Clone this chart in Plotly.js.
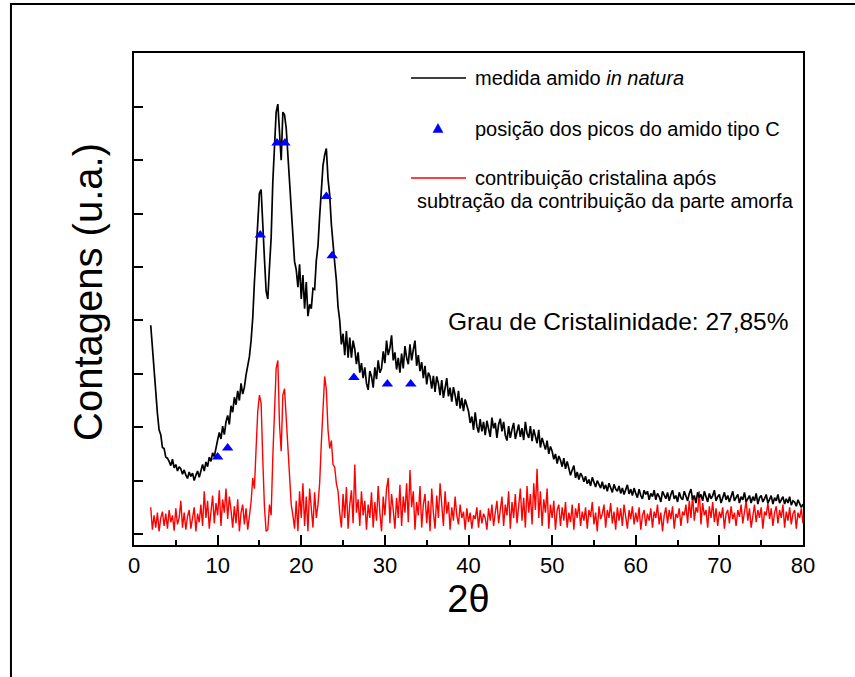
<!DOCTYPE html>
<html>
<head>
<meta charset="utf-8">
<script src="https://cdn.plot.ly/plotly-3.0.1.min.js"></script>
<style>
  html, body { margin: 0; padding: 0; background: #fff; }
  #chart { width: 855px; height: 677px; }
</style>
</head>
<body>
<div id="chart"></div>
<script>
// X-ray diffraction scan: 2θ from 2° to 80° in 0.2° steps
const scanStart = 2.0;
const scanStep = 0.2;

// Measured pattern of the native starch (arbitrary units, 1 unit per y tick)
const medidaAmido = [
  3.91, 3.48, 3.10, 2.58, 2.26, 1.95, 1.86, 1.62, 1.60, 1.44,
  1.42, 1.36, 1.28, 1.40, 1.24, 1.30, 1.18, 1.26, 1.22, 1.12,
  1.20, 1.10, 1.04, 1.16, 1.08, 1.14, 1.00, 1.10, 1.18, 1.06,
  1.20, 1.30, 1.18, 1.35, 1.26, 1.44, 1.36, 1.52, 1.45, 1.64,
  1.76, 1.90, 1.78, 2.02, 1.86, 2.10, 2.22, 2.05, 2.40, 2.28,
  2.56, 2.42, 2.68, 2.50, 2.82, 2.62, 2.75, 2.98, 3.12, 3.32,
  3.62, 4.05, 4.72, 5.30, 5.90, 6.38, 6.45, 5.92, 5.15, 4.55,
  4.40, 5.00, 5.55, 6.60, 7.25, 7.90, 8.05, 7.50, 7.00, 7.90,
  7.85, 7.60, 7.10, 6.75, 6.05, 5.70, 5.10, 4.95, 4.62, 5.05,
  4.40, 4.85, 4.22, 4.72, 4.08, 4.30, 4.22, 4.60, 4.58, 5.12,
  5.40, 5.95, 6.35, 6.90, 7.10, 7.22, 6.65, 6.35, 5.80, 5.50,
  5.08, 4.75, 4.25, 4.00, 3.55, 3.75, 3.35, 3.80, 3.30, 3.68,
  3.30, 3.62, 3.46, 3.18, 3.40, 3.02, 3.20, 2.92, 3.12, 2.82,
  2.70, 3.05, 2.95, 2.74, 3.12, 2.90, 3.25, 3.02, 3.10, 3.42,
  3.20, 3.62, 3.35, 3.48, 3.72, 3.25, 3.40, 3.08, 3.30, 3.02,
  3.38, 3.10, 3.52, 3.30, 3.18, 3.55, 3.25, 3.45, 3.62, 3.15,
  3.35, 3.05, 3.22, 2.92, 3.15, 2.80, 3.02, 2.95, 2.72, 2.96,
  2.66, 2.95, 2.82, 2.60, 2.88, 2.55, 2.78, 2.92, 2.58, 2.74,
  2.48, 2.75, 2.60, 2.40, 2.68, 2.35, 2.55, 2.30, 2.52, 2.38,
  2.30, 2.08, 2.20, 1.95, 2.28, 2.02, 1.90, 2.15, 1.92, 2.10,
  1.85, 2.12, 1.95, 1.82, 2.18, 1.98, 2.08, 1.80, 2.05, 2.16,
  1.92, 2.10, 1.85, 1.75, 2.02, 1.80, 1.96, 2.08, 1.78, 1.95,
  2.05, 1.82, 1.98, 1.76, 2.10, 1.88, 1.80, 2.02, 1.74, 1.96,
  1.85, 1.70, 1.95, 1.62, 1.80, 1.68, 1.58, 1.75, 1.50, 1.64,
  1.55, 1.40, 1.50, 1.32, 1.46, 1.38, 1.26, 1.42, 1.22, 1.36,
  1.24, 1.10, 1.20, 1.28, 1.05, 1.16, 1.02, 1.14, 1.08, 0.98,
  1.08, 0.94, 1.02, 0.90, 1.06, 0.96, 0.88, 1.00, 0.92, 0.86,
  0.98, 0.84, 0.92, 0.80, 0.95, 0.86, 0.78, 0.93, 0.84, 0.80,
  0.90, 0.76, 0.86, 0.74, 0.82, 0.92, 0.75, 0.84, 0.72, 0.86,
  0.76, 0.68, 0.84, 0.72, 0.66, 0.82, 0.74, 0.80, 0.64, 0.76,
  0.70, 0.82, 0.64, 0.76, 0.70, 0.60, 0.80, 0.72, 0.66, 0.78,
  0.62, 0.74, 0.82, 0.66, 0.72, 0.60, 0.78, 0.68, 0.64, 0.80,
  0.70, 0.62, 0.76, 0.84, 0.64, 0.72, 0.58, 0.78, 0.68, 0.74,
  0.62, 0.80, 0.70, 0.60, 0.76, 0.66, 0.72, 0.82, 0.62, 0.70,
  0.74, 0.58, 0.68, 0.78, 0.64, 0.72, 0.60, 0.70, 0.80, 0.62,
  0.68, 0.74, 0.58, 0.70, 0.64, 0.78, 0.60, 0.66, 0.72, 0.58,
  0.70, 0.62, 0.76, 0.56, 0.68, 0.72, 0.60, 0.66, 0.74, 0.58,
  0.66, 0.72, 0.56, 0.68, 0.62, 0.74, 0.58, 0.64, 0.70, 0.56,
  0.66, 0.58, 0.70, 0.54, 0.62, 0.60, 0.52, 0.64, 0.56, 0.50,
  0.56
];

// Crystalline contribution after subtracting the amorphous part
const contribCristalina = [
  0.50, 0.08, 0.35, 0.12, 0.40, 0.05, 0.30, 0.42, 0.15, 0.38,
  0.10, 0.45, 0.22, 0.35, 0.06, 0.48, 0.18, 0.30, 0.62, 0.12,
  0.40, 0.08, 0.33, 0.45, 0.10, 0.28, 0.50, 0.05, 0.38, 0.22,
  0.55, 0.15, 0.80, 0.30, 0.62, 0.10, 0.45, 0.72, 0.20, 0.58,
  0.35, 0.82, 0.15, 0.65, 0.40, 0.85, 0.28, 0.70, 0.45, 0.12,
  0.52, 0.20, 0.65, 0.05, 0.40, 0.55, 0.18, 0.48, 0.08, 0.35,
  0.60, 1.05, 0.85, 1.60, 2.30, 2.60, 2.45, 1.40, 0.50, 0.05,
  0.08, 0.55, 0.35, 1.45, 2.35, 3.10, 3.25, 2.05, 1.55, 2.60,
  2.72, 2.20, 1.50, 1.05, 0.55, 0.35, 0.10, 0.62, 0.05, 0.80,
  0.30, 0.95, 0.15, 0.70, 0.05, 0.85, 0.45, 0.12, 0.78, 0.30,
  0.55, 0.95, 1.70, 2.40, 2.95, 2.70, 1.95, 1.60, 1.75, 1.30,
  1.25, 0.95, 0.80, 0.40, 0.12, 0.75, 0.30, 0.88, 0.10, 0.55,
  0.82, 0.20, 1.30, 0.40, 0.65, 0.15, 0.80, 0.35, 0.62, 0.08,
  0.55, 0.30, 0.78, 0.12, 0.60, 0.25, 0.90, 0.40, 0.05, 0.70,
  0.35, 0.85, 1.05, 0.20, 0.75, 0.45, 0.10, 0.68, 0.30, 0.92,
  0.15, 0.70, 0.40, 0.95, 0.22, 1.20, 0.50, 0.80, 0.08, 0.60,
  0.35, 0.90, 0.12, 0.55, 0.75, 0.20, 0.62, 0.05, 0.85, 0.40,
  0.10, 0.72, 0.30, 0.95, 0.45, 0.15, 0.80, 0.38, 0.60, 0.08,
  0.50, 0.25, 0.70, 0.35, 0.18, 0.55, 0.30, 0.42, 0.08, 0.48,
  0.22, 0.40, 0.10, 0.35, 0.28, 0.50, 0.12, 0.45, 0.20, 0.38,
  0.30, 0.08, 0.48, 0.25, 0.55, 0.15, 0.40, 0.62, 0.20, 0.45,
  0.70, 0.15, 0.55, 0.35, 0.80, 0.10, 0.60, 0.30, 0.75, 0.20,
  0.50, 0.85, 0.25, 0.68, 0.12, 0.90, 0.40, 0.75, 0.18, 0.95,
  0.45, 1.22, 0.30, 0.80, 0.15, 0.65, 0.40, 0.85, 0.10, 0.55,
  0.30, 0.62, 0.08, 0.45, 0.55, 0.15, 0.50, 0.25, 0.60, 0.12,
  0.40, 0.22, 0.55, 0.08, 0.48, 0.30, 0.58, 0.15, 0.42, 0.25,
  0.50, 0.10, 0.45, 0.32, 0.60, 0.18, 0.40, 0.05, 0.52, 0.28,
  0.38, 0.55, 0.12, 0.45, 0.30, 0.58, 0.20, 0.42, 0.08, 0.50,
  0.25, 0.48, 0.15, 0.55, 0.32, 0.10, 0.45, 0.28, 0.52, 0.18,
  0.40, 0.22, 0.50, 0.08, 0.35, 0.45, 0.15, 0.38, 0.25, 0.48,
  0.12, 0.42, 0.30, 0.55, 0.18, 0.40, 0.05, 0.35, 0.50, 0.20,
  0.45, 0.28, 0.52, 0.10, 0.38, 0.30, 0.48, 0.15, 0.42, 0.35,
  0.55, 0.20, 0.62, 0.30, 0.72, 0.25, 0.50, 0.40, 0.80, 0.18,
  0.58, 0.35, 0.45, 0.12, 0.52, 0.30, 0.60, 0.22, 0.48, 0.15,
  0.42, 0.30, 0.50, 0.10, 0.38, 0.45, 0.20, 0.52, 0.28, 0.40,
  0.15, 0.45, 0.32, 0.55, 0.20, 0.40, 0.62, 0.25, 0.48, 0.12,
  0.38, 0.55, 0.22, 0.45, 0.30, 0.50, 0.10, 0.42, 0.35, 0.58,
  0.28, 0.48, 0.15, 0.40, 0.52, 0.20, 0.45, 0.30, 0.55, 0.12,
  0.42, 0.25, 0.50, 0.18, 0.38, 0.45, 0.10, 0.40, 0.30, 0.48,
  0.20
];

// Peak positions of C-type starch marked on the measured pattern
const picos2Theta = [10.0, 11.2, 15.1, 17.1, 18.05, 23.0, 23.7, 26.3, 30.3, 33.1];
const picosValor  = [1.44, 1.61, 5.60, 7.32, 7.32, 6.32, 5.21, 2.93, 2.81, 2.81];

const xTickVals = [0, 10, 20, 30, 40, 50, 60, 70, 80];
const xMinorVals = [5, 15, 25, 35, 45, 55, 65, 75];
const yTickVals = [0, 1, 2, 3, 4, 5, 6, 7, 8];

const textoGrau = 'Grau de Cristalinidade: 27,85%';

const angulos = medidaAmido.map((_, i) => Math.round((scanStart + i * scanStep) * 100) / 100);

const FONT = 'Liberation Sans, Arial, Helvetica, sans-serif';

const traces = [
  {
    x: angulos, y: contribCristalina, type: 'scatter', mode: 'lines',
    line: { color: '#ff0000', width: 1.4 }, hoverinfo: 'skip'
  },
  {
    x: angulos, y: medidaAmido, type: 'scatter', mode: 'lines',
    line: { color: '#000000', width: 1.7 }, hoverinfo: 'skip'
  },
  {
    x: picos2Theta, y: picosValor, type: 'scatter', mode: 'markers',
    marker: { symbol: 'triangle-up', size: 10, color: '#0000ff' }, hoverinfo: 'skip'
  }
];

// legend drawn by hand: sample line / marker plus caption
const legX0 = 0.4141, legX1 = 0.4963, legTextX = 0.5067;
const shapes = [
  // outer figure frame
  { type: 'rect', xref: 'paper', yref: 'paper', x0: -0.1839, x1: 1.15, y0: -0.35, y1: 1.0996,
    line: { color: '#000', width: 2 }, fillcolor: 'rgba(0,0,0,0)' },
  { type: 'line', xref: 'paper', yref: 'paper', x0: legX0, x1: legX1, y0: 0.9492, y1: 0.9492,
    line: { color: '#000', width: 1.5 } },
  { type: 'path', xref: 'paper', yref: 'paper',
    path: 'M 0.4469 0.8384 L 0.4619 0.8384 L 0.4544 0.8567 Z',
    fillcolor: '#0000ff', line: { color: '#0000ff', width: 0.5 } },
  { type: 'line', xref: 'paper', yref: 'paper', x0: legX0, x1: legX1, y0: 0.7459, y1: 0.7459,
    line: { color: '#ff0000', width: 1.5 } }
];

const legFont = { family: FONT, size: 20, color: '#000' };
const annotations = [
  { xref: 'paper', yref: 'paper', x: legTextX, y: 0.9492, xanchor: 'left', yanchor: 'middle',
    text: 'medida amido <i>in natura</i>', showarrow: false, font: legFont },
  { xref: 'paper', yref: 'paper', x: legTextX, y: 0.8455, xanchor: 'left', yanchor: 'middle',
    text: 'posição dos picos do amido tipo C', showarrow: false, font: legFont },
  { xref: 'paper', yref: 'paper', x: legTextX, y: 0.7459, xanchor: 'left', yanchor: 'middle',
    text: 'contribuição cristalina após', showarrow: false, font: legFont },
  { xref: 'paper', yref: 'paper', x: 0.4200, y: 0.6992, xanchor: 'left', yanchor: 'middle',
    text: 'subtração da contribuição da parte amorfa', showarrow: false, font: legFont },
  { xref: 'paper', yref: 'paper', x: 0.4664, y: 0.4533, xanchor: 'left', yanchor: 'middle',
    text: textoGrau, showarrow: false, font: { family: FONT, size: 24.5, color: '#000' } },
  // vertical axis caption
  { xref: 'paper', yref: 'paper', x: -0.0688, y: 0.5142, xanchor: 'center', yanchor: 'middle',
    text: 'Contagens (u.a.)', textangle: -90, showarrow: false,
    font: { family: FONT, size: 40, color: '#000' } }
];

const layout = {
  width: 855, height: 677,
  margin: { l: 134, r: 52, t: 53, b: 132, pad: 0 },
  paper_bgcolor: '#fff', plot_bgcolor: '#fff',
  showlegend: false,
  font: { family: FONT, color: '#000' },
  xaxis: {
    range: [0, 80], tickvals: xTickVals, ticktext: xTickVals.map(String),
    ticks: 'inside', ticklen: 10, tickwidth: 2, tickcolor: '#000',
    minor: { tickvals: xMinorVals, ticks: 'inside', ticklen: 5, tickwidth: 2, tickcolor: '#000', showgrid: false },
    showline: true, linewidth: 2, linecolor: '#000', mirror: true,
    showgrid: false, zeroline: false, automargin: false,
    tickfont: { family: FONT, size: 22, color: '#000' },
    title: { text: '2θ', font: { family: FONT, size: 38, color: '#000' }, standoff: 4 }
  },
  yaxis: {
    range: [-0.206, 9.007], tickvals: yTickVals, showticklabels: false,
    ticks: 'inside', ticklen: 9, tickwidth: 2, tickcolor: '#000',
    showline: true, linewidth: 2, linecolor: '#000', mirror: true,
    showgrid: false, zeroline: false, automargin: false
  },
  shapes: shapes,
  annotations: annotations
};

Plotly.newPlot('chart', traces, layout, { staticPlot: true, displayModeBar: false });
</script>
</body>
</html>
